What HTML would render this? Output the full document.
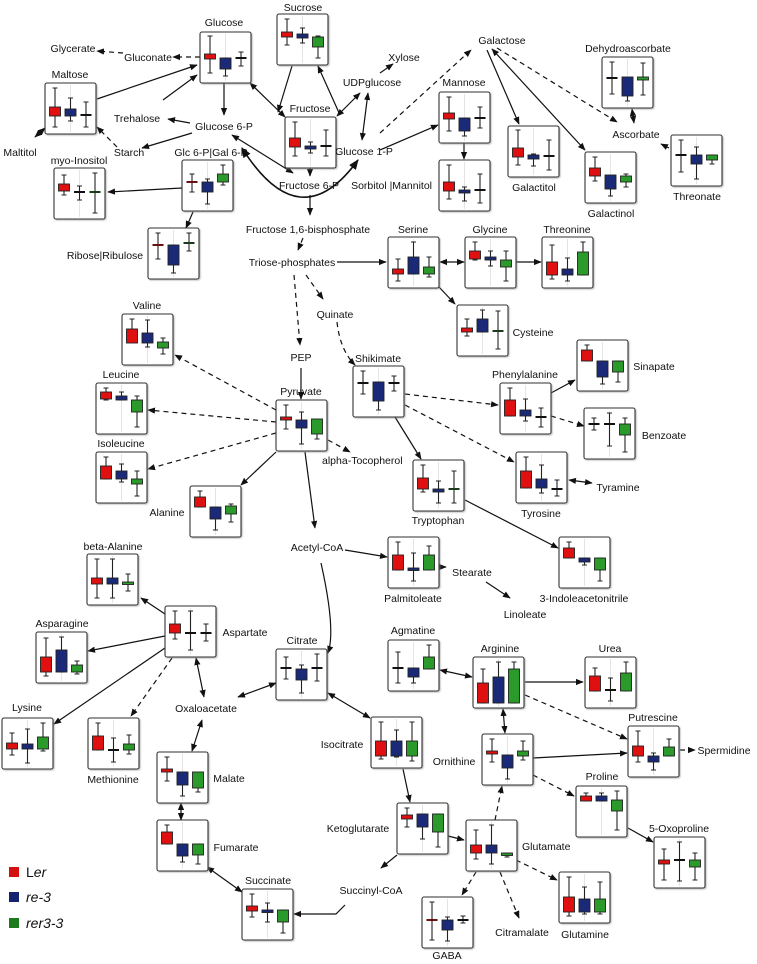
<!DOCTYPE html>
<html><head><meta charset="utf-8">
<style>
html,body{margin:0;padding:0;background:#fff;}
svg{display:block;}
text{font-family:"Liberation Sans","DejaVu Sans",sans-serif;font-size:10.5px;fill:#111;}
</style></head>
<body>
<svg id="s" width="757" height="964" viewBox="0 0 757 964" xmlns="http://www.w3.org/2000/svg">
<defs>
<marker id="a" viewBox="0 0 10 10" refX="9" refY="5" markerWidth="6.5" markerHeight="6.5" orient="auto-start-reverse"><path d="M0,1 L10,5 L0,9 z" fill="#111"/></marker>
<filter id="sh" x="-10%" y="-10%" width="130%" height="130%"><feDropShadow dx="1" dy="1" stdDeviation="0.8" flood-color="#888" flood-opacity="0.6"/></filter>
</defs>
<g id="lines" stroke="#111" stroke-width="1.2" fill="none"></g>
<g id="boxes"></g>
<g id="labels">
<text x="303" y="11" text-anchor="middle">Sucrose</text>
<text x="224" y="26" text-anchor="middle">Glucose</text>
<text x="73" y="52" text-anchor="middle">Glycerate</text>
<text x="148" y="61" text-anchor="middle">Gluconate</text>
<text x="70" y="78" text-anchor="middle">Maltose</text>
<text x="404" y="61" text-anchor="middle">Xylose</text>
<text x="372" y="86" text-anchor="middle">UDPglucose</text>
<text x="502" y="44" text-anchor="middle">Galactose</text>
<text x="628" y="52" text-anchor="middle">Dehydroascorbate</text>
<text x="464" y="86" text-anchor="middle">Mannose</text>
<text x="310" y="112" text-anchor="middle">Fructose</text>
<text x="137" y="122" text-anchor="middle">Trehalose</text>
<text x="224" y="130" text-anchor="middle">Glucose 6-P</text>
<text x="364" y="155" text-anchor="middle">Glucose 1-P</text>
<text x="20" y="156" text-anchor="middle">Maltitol</text>
<text x="129" y="156" text-anchor="middle">Starch</text>
<text x="211" y="156" text-anchor="middle">Glc 6-P|Gal 6-P</text>
<text x="79" y="164" text-anchor="middle">myo-Inositol</text>
<text x="636" y="138" text-anchor="middle">Ascorbate</text>
<text x="432" y="189" text-anchor="end">Sorbitol |Mannitol</text>
<text x="534" y="191" text-anchor="middle">Galactitol</text>
<text x="309" y="189" text-anchor="middle">Fructose 6-P</text>
<text x="697" y="200" text-anchor="middle">Threonate</text>
<text x="611" y="217" text-anchor="middle">Galactinol</text>
<text x="308" y="233" text-anchor="middle">Fructose 1,6-bisphosphate</text>
<text x="105" y="259" text-anchor="middle">Ribose|Ribulose</text>
<text x="292" y="266" text-anchor="middle">Triose-phosphates</text>
<text x="413" y="233" text-anchor="middle">Serine</text>
<text x="490" y="233" text-anchor="middle">Glycine</text>
<text x="567" y="233" text-anchor="middle">Threonine</text>
<text x="335" y="318" text-anchor="middle">Quinate</text>
<text x="533" y="336" text-anchor="middle">Cysteine</text>
<text x="147" y="309" text-anchor="middle">Valine</text>
<text x="301" y="361" text-anchor="middle">PEP</text>
<text x="378" y="362" text-anchor="middle">Shikimate</text>
<text x="525" y="378" text-anchor="middle">Phenylalanine</text>
<text x="654" y="370" text-anchor="middle">Sinapate</text>
<text x="121" y="378" text-anchor="middle">Leucine</text>
<text x="301" y="395" text-anchor="middle">Pyruvate</text>
<text x="121" y="447" text-anchor="middle">Isoleucine</text>
<text x="322" y="464">alpha-Tocopherol</text>
<text x="664" y="439" text-anchor="middle">Benzoate</text>
<text x="618" y="491" text-anchor="middle">Tyramine</text>
<text x="167" y="516" text-anchor="middle">Alanine</text>
<text x="438" y="524" text-anchor="middle">Tryptophan</text>
<text x="541" y="517" text-anchor="middle">Tyrosine</text>
<text x="113" y="550" text-anchor="middle">beta-Alanine</text>
<text x="317" y="551" text-anchor="middle">Acetyl-CoA</text>
<text x="413" y="602" text-anchor="middle">Palmitoleate</text>
<text x="472" y="576" text-anchor="middle">Stearate</text>
<text x="584" y="602" text-anchor="middle">3-Indoleacetonitrile</text>
<text x="525" y="618" text-anchor="middle">Linoleate</text>
<text x="62" y="627" text-anchor="middle">Asparagine</text>
<text x="245" y="636" text-anchor="middle">Aspartate</text>
<text x="302" y="644" text-anchor="middle">Citrate</text>
<text x="413" y="634" text-anchor="middle">Agmatine</text>
<text x="500" y="652" text-anchor="middle">Arginine</text>
<text x="610" y="652" text-anchor="middle">Urea</text>
<text x="27" y="711" text-anchor="middle">Lysine</text>
<text x="206" y="712" text-anchor="middle">Oxaloacetate</text>
<text x="653" y="721" text-anchor="middle">Putrescine</text>
<text x="113" y="783" text-anchor="middle">Methionine</text>
<text x="342" y="748" text-anchor="middle">Isocitrate</text>
<text x="454" y="765" text-anchor="middle">Ornithine</text>
<text x="724" y="754" text-anchor="middle">Spermidine</text>
<text x="602" y="780" text-anchor="middle">Proline</text>
<text x="229" y="782" text-anchor="middle">Malate</text>
<text x="679" y="832" text-anchor="middle">5-Oxoproline</text>
<text x="358" y="832" text-anchor="middle">Ketoglutarate</text>
<text x="236" y="851" text-anchor="middle">Fumarate</text>
<text x="522" y="850">Glutamate</text>
<text x="268" y="884" text-anchor="middle">Succinate</text>
<text x="371" y="894" text-anchor="middle">Succinyl-CoA</text>
<text x="522" y="936" text-anchor="middle">Citramalate</text>
<text x="585" y="938" text-anchor="middle">Glutamine</text>
<text x="447" y="959" text-anchor="middle">GABA</text>
</g>
<g id="legend">
<rect x="9" y="867" width="10" height="10" fill="#d40f0f"/>
<rect x="9" y="892" width="10" height="10" fill="#14236e"/>
<rect x="9" y="918" width="10" height="10" fill="#1d7a1d"/>
<text x="26" y="877" style="font-size:14px">L<tspan font-style="italic">er</tspan></text>
<text x="26" y="902" style="font-size:14px;font-style:italic">re-3</text>
<text x="26" y="928" style="font-size:14px;font-style:italic">rer3-3</text>
</g>
</svg>
<script>
var NS="http://www.w3.org/2000/svg";
function el(p,t,a){var e=document.createElementNS(NS,t);for(var k in a)e.setAttribute(k,a[k]);p.appendChild(e);return e;}
var C=["#e01010","#1a2a78","#2a9a2a"];
var B=[
[200,32,[[22,27,4,41,0],[26,37,26,44,1],[26,26,20,34,-1]]],
[277,14,[[18,23,5,31,0],[20,24,14,29,1],[23,33,22,44,2]]],
[45,83,[[24,33,5,44,0],[26,33,15,38,1],[32,32,19,44,-1]]],
[285,117,[[21,30,5,39,0],[29,32,25,36,1],[29,29,13,39,-1]]],
[54,168,[[16,23,7,27,0],[24,24,18,32,-1],[24,24,5,45,-2]]],
[182,160,[[22,22,14,32,-3],[22,32,19,44,1],[14,22,5,25,2]]],
[148,228,[[17,17,5,31,-3],[17,37,17,45,1],[15,15,5,23,-2]]],
[439,92,[[21,27,5,39,0],[26,39,26,44,1],[26,26,15,36,-1]]],
[439,160,[[22,31,5,39,0],[30,33,27,41,1],[30,30,14,43,-1]]],
[508,126,[[22,31,4,39,0],[29,33,28,40,1],[30,30,14,44,-1]]],
[585,152,[[16,24,5,29,0],[23,37,24,44,1],[24,30,22,35,2]]],
[602,57,[[21,21,5,37,-1],[20,39,21,44,1],[20,23,6,38,2]]],
[671,135,[[20,20,5,37,-1],[20,29,12,44,1],[20,25,20,29,2]]],
[388,237,[[32,37,22,44,0],[20,37,5,37,1],[30,37,20,40,2]]],
[465,237,[[14,22,5,23,0],[20,23,14,29,1],[23,30,14,44,2]]],
[542,237,[[25,38,8,42,0],[32,38,21,44,1],[15,38,5,38,2]]],
[457,305,[[23,27,14,31,0],[14,27,5,27,1],[26,26,6,44,-2]]],
[122,314,[[15,29,5,28,0],[19,29,6,33,1],[28,34,24,40,2]]],
[96,383,[[9,16,5,17,0],[13,17,9,17,1],[17,29,13,44,2]]],
[96,452,[[14,27,5,27,0],[19,27,12,30,1],[27,32,19,44,2]]],
[276,400,[[17,20,5,29,0],[20,28,12,44,1],[19,34,28,39,2]]],
[190,486,[[11,21,5,21,0],[21,33,21,44,1],[20,28,18,36,2]]],
[353,366,[[17,17,5,28,-1],[16,35,16,44,1],[17,17,10,25,-1]]],
[500,383,[[17,33,5,33,0],[27,33,16,38,1],[34,34,25,44,-1]]],
[577,340,[[10,21,5,21,0],[21,37,21,44,1],[21,32,21,42,2]]],
[584,408,[[16,16,10,22,-1],[16,16,5,38,-1],[16,27,10,44,2]]],
[516,452,[[19,36,5,36,0],[27,36,13,41,1],[37,37,28,44,-1]]],
[413,460,[[18,29,5,32,0],[29,32,21,43,1],[29,29,11,43,-2]]],
[559,537,[[11,21,5,21,0],[21,25,21,28,1],[21,33,21,44,2]]],
[388,537,[[18,33,5,33,0],[31,33,16,44,1],[18,33,9,33,2]]],
[87,554,[[24,30,5,44,0],[24,30,5,44,1],[28,30,20,37,2]]],
[165,606,[[18,27,5,33,0],[27,27,5,44,-1],[27,27,18,35,-1]]],
[36,632,[[25,40,6,44,0],[18,40,5,40,1],[33,40,29,42,2]]],
[2,718,[[25,31,15,37,0],[26,31,11,45,1],[19,31,5,33,2]]],
[88,718,[[18,32,5,32,0],[32,32,20,44,-1],[26,32,17,36,2]]],
[276,649,[[19,19,8,30,-1],[20,31,16,44,1],[19,19,5,32,-1]]],
[157,752,[[17,20,5,29,0],[20,33,20,44,1],[20,36,30,40,2]]],
[157,820,[[12,24,5,24,0],[24,36,24,42,1],[24,35,24,44,2]]],
[242,889,[[17,22,5,28,0],[21,23,14,33,1],[21,33,21,44,2]]],
[371,717,[[24,39,5,42,0],[24,39,13,40,1],[24,39,5,44,2]]],
[397,803,[[12,16,5,24,0],[11,24,11,36,1],[11,29,11,44,2]]],
[466,820,[[25,33,10,39,0],[25,33,5,44,1],[33,35,33,37,2]]],
[422,897,[[23,23,5,43,-3],[23,33,20,44,1],[23,23,19,26,-1]]],
[559,872,[[25,40,5,44,0],[27,40,15,42,1],[27,40,10,42,2]]],
[388,640,[[28,28,12,43,-1],[28,37,28,43,1],[17,29,5,29,2]]],
[473,657,[[26,46,12,46,0],[20,46,5,46,1],[12,46,5,46,2]]],
[585,657,[[19,34,11,34,0],[33,33,21,44,-1],[16,34,5,34,2]]],
[628,726,[[20,30,5,36,0],[30,36,27,44,1],[21,30,13,30,2]]],
[482,734,[[17,20,5,28,0],[21,34,21,45,1],[17,22,7,26,2]]],
[576,786,[[10,15,7,15,0],[10,15,7,15,1],[14,25,5,44,2]]],
[654,837,[[23,27,12,43,0],[23,23,5,44,-1],[23,30,16,43,2]]]
];
var bx=document.getElementById("boxes");
B.forEach(function(b){
 var g=el(bx,"g",{transform:"translate("+b[0]+","+b[1]+")"});
 el(g,"rect",{x:0,y:0,width:51,height:51,rx:2,fill:"#fff",stroke:"#333","stroke-width":1.1,filter:"url(#sh)"});
 el(g,"line",{x1:25.5,y1:2,x2:25.5,y2:49,stroke:"#e4e4e4","stroke-width":1});
 b[2].forEach(function(r,i){
  var cx=10+i*15.5, c=r[4];
  var mc = c>=0?"#111":(c==-3?"#6a1010":c==-2?"#1b3a1b":"#111");
  el(g,"line",{x1:cx,y1:r[2],x2:cx,y2:r[3],stroke:"#222","stroke-width":1.1});
  el(g,"line",{x1:cx-2.5,y1:r[2],x2:cx+2.5,y2:r[2],stroke:"#222","stroke-width":1});
  el(g,"line",{x1:cx-2.5,y1:r[3],x2:cx+2.5,y2:r[3],stroke:"#222","stroke-width":1});
  if(c>=0){
   var h=Math.max(r[1]-r[0],2.5);
   el(g,"rect",{x:cx-5.5,y:r[0],width:11,height:h,fill:C[c],stroke:"#222","stroke-width":0.9});
  } else {
   el(g,"line",{x1:cx-5.5,y1:r[0],x2:cx+5.5,y2:r[0],stroke:mc,"stroke-width":2});
  }
 });
});
var L=[
[123,53,97,51,1,0],[200,57,173,57,1,0],[97,99,197,65,0,0],[163,100,197,75,0,0],
[224,83,224,115,0,0],[250,83,285,117,0,1],[292,66,278,112,0,0],[340,115,318,66,0,0],
[337,116,360,93,0,1],[368,93,362,140,0,1],[380,73,393,64,0,0],[190,123,168,119,0,0],
[192,133,142,148,0,0],[117,147,97,127,1,0],[45,128,35,137,0,1],[232,135,293,173,0,1],
[310,168,310,176,0,0],[310,195,310,215,0,0],[303,238,298,250,1,0],[182,188,108,192,0,0],
[193,212,186,228,0,0],[337,262,386,262,0,0],[294,275,300,345,1,0],[306,275,323,299,1,0],
[380,133,471,50,1,0],[380,150,438,125,0,0],[464,143,464,159,0,0],[487,50,519,124,0,0],
[492,49,585,150,0,1],[497,48,617,122,1,0],[632,109,634,123,0,1],[669,148,661,144,0,0],
[440,262,464,262,0,1],[516,262,541,262,0,0],[439,287,455,304,0,0],[301,368,301,399,0,0],
[276,410,175,355,1,0],[276,422,148,410,1,0],[276,433,148,469,1,0],[276,452,241,485,0,0],
[328,440,350,452,1,0],[305,452,315,528,0,0],[405,394,498,405,1,0],[405,405,514,462,1,0],
[395,417,421,459,0,0],[551,393,575,380,0,0],[551,416,584,426,1,0],[569,480,592,483,0,1],
[465,500,558,548,0,0],[345,550,387,557,0,0],[440,567,446,567,0,0],[486,582,510,598,0,0],
[165,614,141,598,0,0],[165,636,88,651,0,0],[165,648,54,724,0,0],[172,658,131,716,1,0],
[196,658,204,697,0,1],[238,697,276,683,0,1],[202,720,192,751,0,1],[181,803,181,820,0,1],
[207,867,242,892,0,1],[328,693,370,718,0,1],[403,769,410,802,0,0],[397,855,381,868,0,0],
[448,836,464,840,0,0],[495,820,502,786,1,0],[476,872,462,895,1,0],[500,872,519,918,1,0],
[516,860,557,880,1,0],[505,733,503,709,0,1],[440,670,472,677,0,1],[525,682,583,682,0,0],
[525,695,627,739,1,0],[533,758,627,753,0,0],[533,775,574,796,1,0],[628,828,653,842,0,0],
[680,750,695,750,1,0]
];
var lg=document.getElementById("lines");
L.forEach(function(l){
 var a={x1:l[0],y1:l[1],x2:l[2],y2:l[3],"marker-end":"url(#a)"};
 if(l[4])a["stroke-dasharray"]="5,4";
 if(l[5])a["marker-start"]="url(#a)";
 el(lg,"line",a);
});
el(lg,"path",{d:"M242,148 Q300,240 358,160","marker-end":"url(#a)","marker-start":"url(#a)","stroke-width":1.6});
el(lg,"path",{d:"M337,322 Q340,350 355,365","stroke-dasharray":"5,4","marker-end":"url(#a)"});
el(lg,"path",{d:"M321,563 Q336,630 328,653","marker-end":"url(#a)"});
el(lg,"path",{d:"M345,905 L336,914 L294,914","marker-end":"url(#a)"});
</script>
</body></html>
